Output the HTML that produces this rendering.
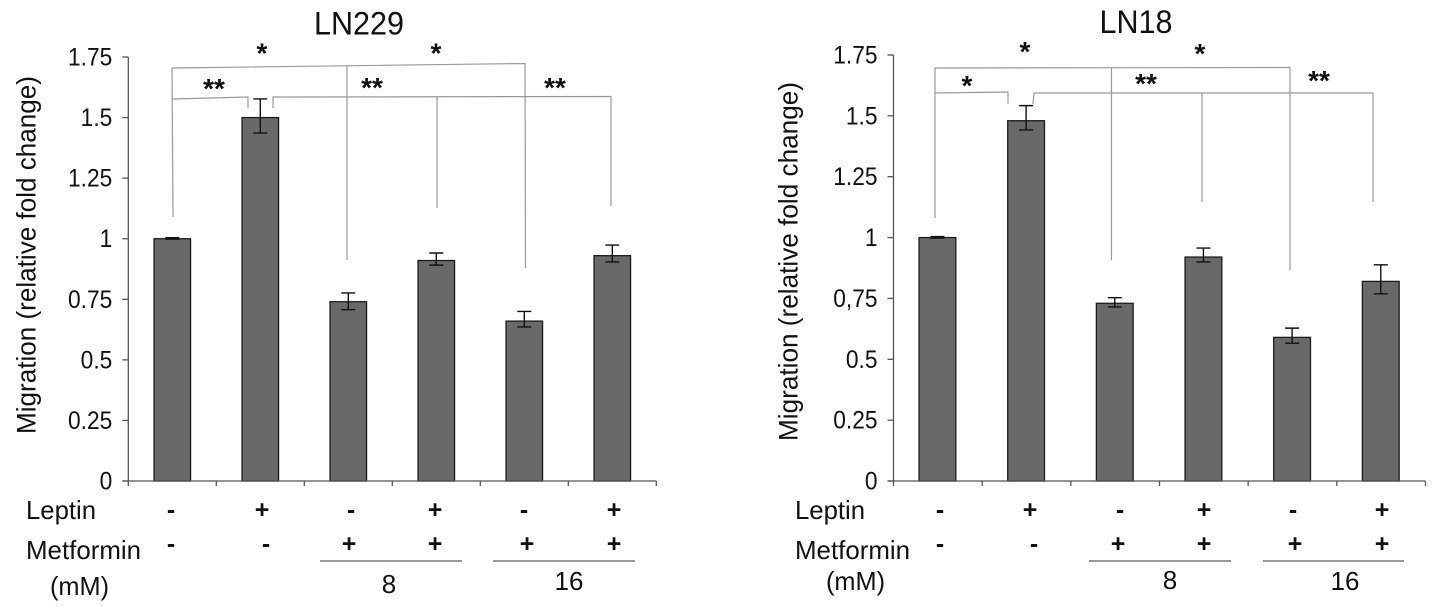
<!DOCTYPE html>
<html lang="en">
<head>
<meta charset="utf-8">
<title>Migration fold change in LN229 and LN18</title>
<style>
html,body{margin:0;padding:0;background:#fff;width:1441px;height:606px;overflow:hidden}
svg{display:block}
text{font-family:"Liberation Sans",Arial,sans-serif;fill:#111}
.sign{font-weight:bold;font-size:25px;text-anchor:middle}
.star{font-weight:bold;font-size:28px;text-anchor:middle}
.lab{font-size:26px}
.tick{font-size:25px;text-anchor:end}
.br line,.br polyline{stroke:#999;stroke-width:1.2;fill:none}
</style>
</head>
<body>
<svg id="figure" xmlns="http://www.w3.org/2000/svg" width="1441" height="606" viewBox="0 0 1441 606">
  <rect width="1441" height="606" fill="#fff"/>

  <!-- LN229 static annotation -->
  <g>
    <text x="314" y="34.5" font-size="32" textLength="90" lengthAdjust="spacingAndGlyphs">LN229</text>
    <text transform="translate(35.5,434) rotate(-90)" font-size="27" textLength="358" lengthAdjust="spacingAndGlyphs">Migration (relative fold change)</text>
    <text class="lab" x="26" y="519" textLength="70" lengthAdjust="spacingAndGlyphs">Leptin</text>
    <text class="lab" x="26" y="559" textLength="115" lengthAdjust="spacingAndGlyphs">Metformin</text>
    <text class="lab" x="50" y="595" textLength="59" lengthAdjust="spacingAndGlyphs">(mM)</text>
    <text class="lab" x="389" y="593" text-anchor="middle">8</text>
    <text class="lab" x="569" y="590" text-anchor="middle">16</text>
    <line x1="320" y1="561" x2="462" y2="561" stroke="#333" stroke-width="1.1"/>
    <line x1="493" y1="561" x2="635" y2="561" stroke="#333" stroke-width="1.1"/>
  </g>
  <g class="signs">
    <text class="sign" x="171" y="518">-</text>
    <text class="sign" x="262" y="518">+</text>
    <text class="sign" x="351" y="518">-</text>
    <text class="sign" x="435" y="518">+</text>
    <text class="sign" x="524" y="518">-</text>
    <text class="sign" x="614" y="518">+</text>
  </g>
  <g class="signs">
    <text class="sign" x="171" y="552">-</text>
    <text class="sign" x="266" y="552">-</text>
    <text class="sign" x="349" y="552">+</text>
    <text class="sign" x="435" y="552">+</text>
    <text class="sign" x="527" y="552">+</text>
    <text class="sign" x="614" y="552">+</text>
  </g>
  <g class="br">
    <polyline points="173,217 172,68 525,63.5 525.5,268"/>
    <line x1="347" y1="66" x2="347" y2="260"/>
    <polyline points="172,99 248,97 248,108"/>
    <polyline points="273,108 273,97 611,96.5 611,206"/>
    <line x1="437" y1="97" x2="437" y2="208"/>
  </g>
  <g>
    <text class="star" x="262" y="62.5">*</text>
    <text class="star" x="436" y="62.5">*</text>
    <text class="star" x="214" y="98">**</text>
    <text class="star" x="372" y="97">**</text>
    <text class="star" x="555" y="97">**</text>
  </g>

  <!-- LN18 static annotation -->
  <g>
    <text x="1099.5" y="33" font-size="32" textLength="73" lengthAdjust="spacingAndGlyphs">LN18</text>
    <text transform="translate(797.5,441) rotate(-90)" font-size="27" textLength="359" lengthAdjust="spacingAndGlyphs">Migration (relative fold change)</text>
    <text class="lab" x="795" y="519" textLength="70" lengthAdjust="spacingAndGlyphs">Leptin</text>
    <text class="lab" x="795" y="559" textLength="115" lengthAdjust="spacingAndGlyphs">Metformin</text>
    <text class="lab" x="826" y="590" textLength="59" lengthAdjust="spacingAndGlyphs">(mM)</text>
    <text class="lab" x="1170" y="589" text-anchor="middle">8</text>
    <text class="lab" x="1345" y="590" text-anchor="middle">16</text>
    <line x1="1089" y1="561" x2="1231" y2="561" stroke="#333" stroke-width="1.1"/>
    <line x1="1263" y1="561" x2="1404" y2="561" stroke="#333" stroke-width="1.1"/>
  </g>
  <g class="signs">
    <text class="sign" x="940" y="518">-</text>
    <text class="sign" x="1030" y="518">+</text>
    <text class="sign" x="1120" y="518">-</text>
    <text class="sign" x="1204" y="518">+</text>
    <text class="sign" x="1293" y="518">-</text>
    <text class="sign" x="1382" y="518">+</text>
  </g>
  <g class="signs">
    <text class="sign" x="940" y="552">-</text>
    <text class="sign" x="1034" y="552">-</text>
    <text class="sign" x="1118" y="552">+</text>
    <text class="sign" x="1204" y="552">+</text>
    <text class="sign" x="1295" y="552">+</text>
    <text class="sign" x="1382" y="552">+</text>
  </g>
  <g class="br">
    <polyline points="935,218 935,68 1290,67.5 1290,270"/>
    <line x1="1111.5" y1="68" x2="1111.5" y2="260"/>
    <polyline points="935,93 1008,92 1008,104"/>
    <polyline points="1033,104 1034,93 1373,93 1373,202"/>
    <line x1="1202" y1="93" x2="1202" y2="202"/>
  </g>
  <g>
    <text class="star" x="1025" y="61">*</text>
    <text class="star" x="1200" y="63">*</text>
    <text class="star" x="967" y="95">*</text>
    <text class="star" x="1146" y="93">**</text>
    <text class="star" x="1319" y="90">**</text>
  </g>

  <g id="chart-ln229"></g>
  <g id="chart-ln18"></g>
</svg>

<script>
var categories = ['control', 'leptin', 'metformin-8', 'leptin-metformin-8', 'metformin-16', 'leptin-metformin-16'];
var tickValues = [0, 0.25, 0.5, 0.75, 1, 1.25, 1.5, 1.75];

var ln229TickLabels = ['0', '0.25', '0.5', '0.75', '1', '1.25', '1.5', '1.75'];
var ln229Values = [1, 1.5, 0.74, 0.91, 0.66, 0.93];
var ln229High = [1.004, 1.577, 0.776, 0.941, 0.7, 0.974];
var ln229Low = [0.998, 1.436, 0.707, 0.891, 0.636, 0.904];

var ln18TickLabels = ['0', '0.25', '0.5', '0,75', '1', '1.25', '1.5', '1.75'];
var ln18Values = [1, 1.48, 0.73, 0.92, 0.59, 0.82];
var ln18High = [1.004, 1.542, 0.753, 0.957, 0.628, 0.888];
var ln18Low = [0.998, 1.442, 0.715, 0.9, 0.566, 0.769];

var SVG_NS = 'http://www.w3.org/2000/svg';

function shape(parent, tag, attrs) {
  var el = document.createElementNS(SVG_NS, tag);
  for (var k in attrs) { el.setAttribute(k, attrs[k]); }
  parent.appendChild(el);
  return el;
}

function drawChart(groupId, tickLabels, values, high, low, box) {
  var g = document.getElementById(groupId);
  var step = box.width / categories.length;
  var barWidth = step * 0.415;
  var yMax = tickValues[tickValues.length - 1];

  function xCenter(i) { return box.left + step * (i + 0.5); }
  function yScale(v) { return box.bottom - (box.bottom - box.top) * v / yMax; }

  var axisStyle = { stroke: '#555', 'stroke-width': 1.3, fill: 'none' };

  categories.forEach(function (name, i) {
    var top = yScale(values[i]);
    var bar = shape(g, 'rect', {
      x: xCenter(i) - barWidth / 2 + box.shift, y: top,
      width: barWidth, height: box.bottom - top,
      fill: '#696969', stroke: '#1c1c1c', 'stroke-width': 1.3
    });
    
    

    var cx = xCenter(i) + box.shift;
    var err = shape(g, 'path', {
      d: 'M' + (cx - 7) + ' ' + yScale(high[i]) + 'H' + (cx + 7) +
         'M' + cx + ' ' + yScale(high[i]) + 'V' + yScale(low[i]) +
         'M' + (cx - 7) + ' ' + yScale(low[i]) + 'H' + (cx + 7),
      stroke: '#111', 'stroke-width': 1.4, fill: 'none'
    });
    
    
  });

  var yAxis = shape(g, 'line', Object.assign({ x1: box.left, x2: box.left, y1: box.top, y2: box.bottom }, axisStyle));
  
  

  var xAxis = shape(g, 'line', Object.assign({ x1: box.left - 6, x2: box.left + box.width, y1: box.bottom, y2: box.bottom }, axisStyle));
  
  

  tickValues.forEach(function (v, i) {
    var y = yScale(v);
    var tick = shape(g, 'line', Object.assign({ x1: box.left - 6, x2: box.left, y1: y, y2: y }, axisStyle));
    
    

    var label = shape(g, 'text', {
      transform: 'translate(' + (box.left - 16) + ',' + (y + 8.5) + ') scale(0.91,1)',
      'class': 'tick'
    });
    label.textContent = tickLabels[i];
    
    
  });

  for (var i = 0; i <= categories.length; i++) {
    var x = box.left + step * i;
    var xTick = shape(g, 'line', Object.assign({ x1: x, x2: x, y1: box.bottom, y2: box.bottom + 5 }, axisStyle));
    
    
  }
}

drawChart('chart-ln229', ln229TickLabels, ln229Values, ln229High, ln229Low,
  { left: 128.3, width: 528, top: 57, bottom: 481, shift: 0 });
drawChart('chart-ln18', ln18TickLabels, ln18Values, ln18High, ln18Low,
  { left: 893.5, width: 532, top: 55, bottom: 481, shift: -0.4 });
</script>
</body>
</html>
